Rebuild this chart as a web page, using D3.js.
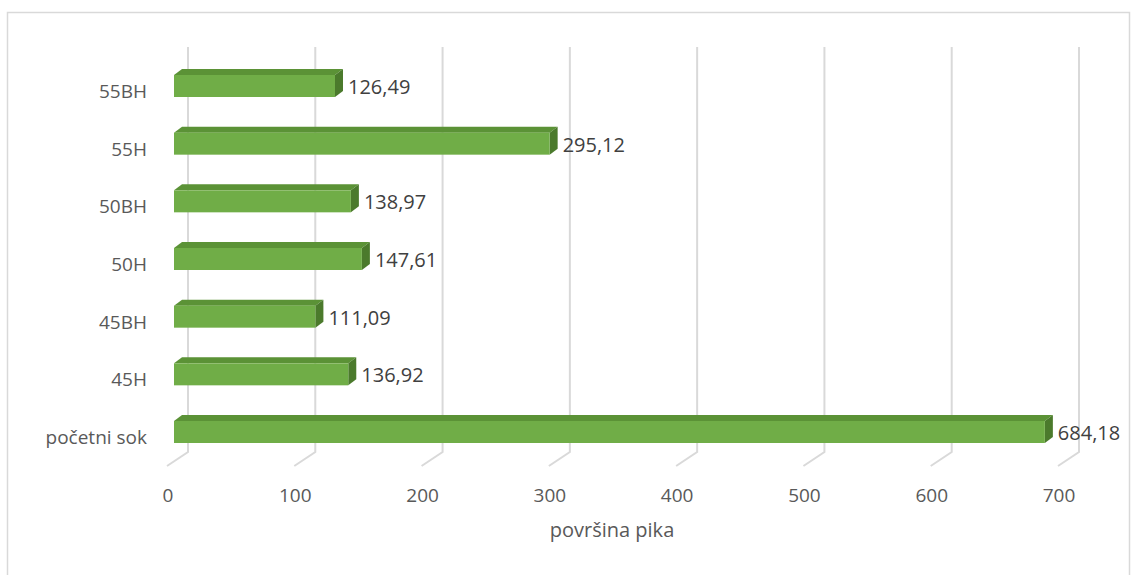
<!DOCTYPE html>
<html>
<head>
<meta charset="utf-8">
<script src="https://cdn.jsdelivr.net/npm/d3@7"></script>
<style>
  body { margin: 0; background: #fff; }
  text { font-family: "Open Sans", "Liberation Sans", sans-serif; }
</style>
</head>
<body>
<script>
// kategorije (odozdo prema gore) i vrijednosti
let categories = ["početni sok", "45H", "45BH", "50H", "50BH", "55H", "55BH"];
let values = [684.18, 136.92, 111.09, 147.61, 138.97, 295.12, 126.49];
let ticks = [0, 100, 200, 300, 400, 500, 600, 700];

let WIDTH = 1131, HEIGHT = 575;

let svg = d3.select("body").append("svg")
    .attr("width", WIDTH)
    .attr("height", HEIGHT);

// okvir grafikona
svg.append("rect")
    .attr("x", 7.5).attr("y", 12.5)
    .attr("width", 1122).attr("height", 580)
    .attr("fill", "none")
    .attr("stroke", "#d9d9d9")
    .attr("stroke-width", 1.5);

let x = d3.scaleLinear().domain([0, 700]).range([174, 1065]);
let y = d3.scalePoint().domain(categories).range([432, 86]);

let backDx = 14, gridTop = 47, gridBottom = 452, floorDx = -21, floorDy = 14;

// mreža (stražnji zid + pod)
let grid = svg.append("g").attr("class", "grid");
grid.selectAll("path")
    .data(ticks)
    .enter()
    .append("path")
    .attr("d", d => {
        let xb = x(d) + backDx;
        return `M${xb},${gridTop} L${xb},${gridBottom} L${xb + floorDx},${gridBottom + floorDy}`;
    })
    .attr("fill", "none")
    .attr("stroke", "#d9d9d9")
    .attr("stroke-width", 2);

// oznake osi x
svg.append("g").selectAll("text")
    .data(ticks)
    .enter()
    .append("text")
    .attr("x", d => x(d) - 6)
    .attr("y", 502)
    .attr("text-anchor", "middle")
    .attr("font-size", 19)
    .attr("fill", "#595959")
    .text(d => d);

svg.append("text")
    .attr("x", 612)
    .attr("y", 537)
    .attr("text-anchor", "middle")
    .attr("font-size", 20)
    .attr("fill", "#595959")
    .text("površina pika");

// kategorije
svg.append("g").selectAll("text")
    .data(categories)
    .enter()
    .append("text")
    .attr("x", 147)
    .attr("y", d => y(d) + 12)
    .attr("text-anchor", "end")
    .attr("font-size", 19)
    .attr("fill", "#595959")
    .text(d => d);

// 3D stupci
let barH = 22, dx = 8, dy = -6;
let bars = svg.append("g").selectAll("g")
    .data(categories.map((c, i) => ({cat: c, val: values[i]})))
    .enter()
    .append("g");

bars.append("path") // gornja ploha
    .attr("d", d => {
        let x0 = x(0), x1 = x(d.val), yt = y(d.cat) - barH / 2;
        return `M${x0},${yt} L${x0 + dx},${yt + dy} L${x1 + dx},${yt + dy} L${x1},${yt} Z`;
    })
    .attr("fill", "#5b9236");

bars.append("path") // desna ploha
    .attr("d", d => {
        let x1 = x(d.val), yt = y(d.cat) - barH / 2;
        return `M${x1},${yt} L${x1 + dx},${yt + dy} L${x1 + dx},${yt + dy + barH} L${x1},${yt + barH} Z`;
    })
    .attr("fill", "#4b7a2c");

bars.append("rect") // prednja ploha
    .attr("x", x(0))
    .attr("y", d => y(d.cat) - barH / 2)
    .attr("width", d => x(d.val) - x(0))
    .attr("height", barH)
    .attr("fill", "#70ad47");

bars.append("text")
    .attr("x", d => x(d.val) + dx + 5)
    .attr("y", d => y(d.cat) + 8)
    .attr("font-size", 20)
    .attr("fill", "#404040")
    .text(d => d.val.toFixed(2).replace(".", ","));
</script>
</body>
</html>
